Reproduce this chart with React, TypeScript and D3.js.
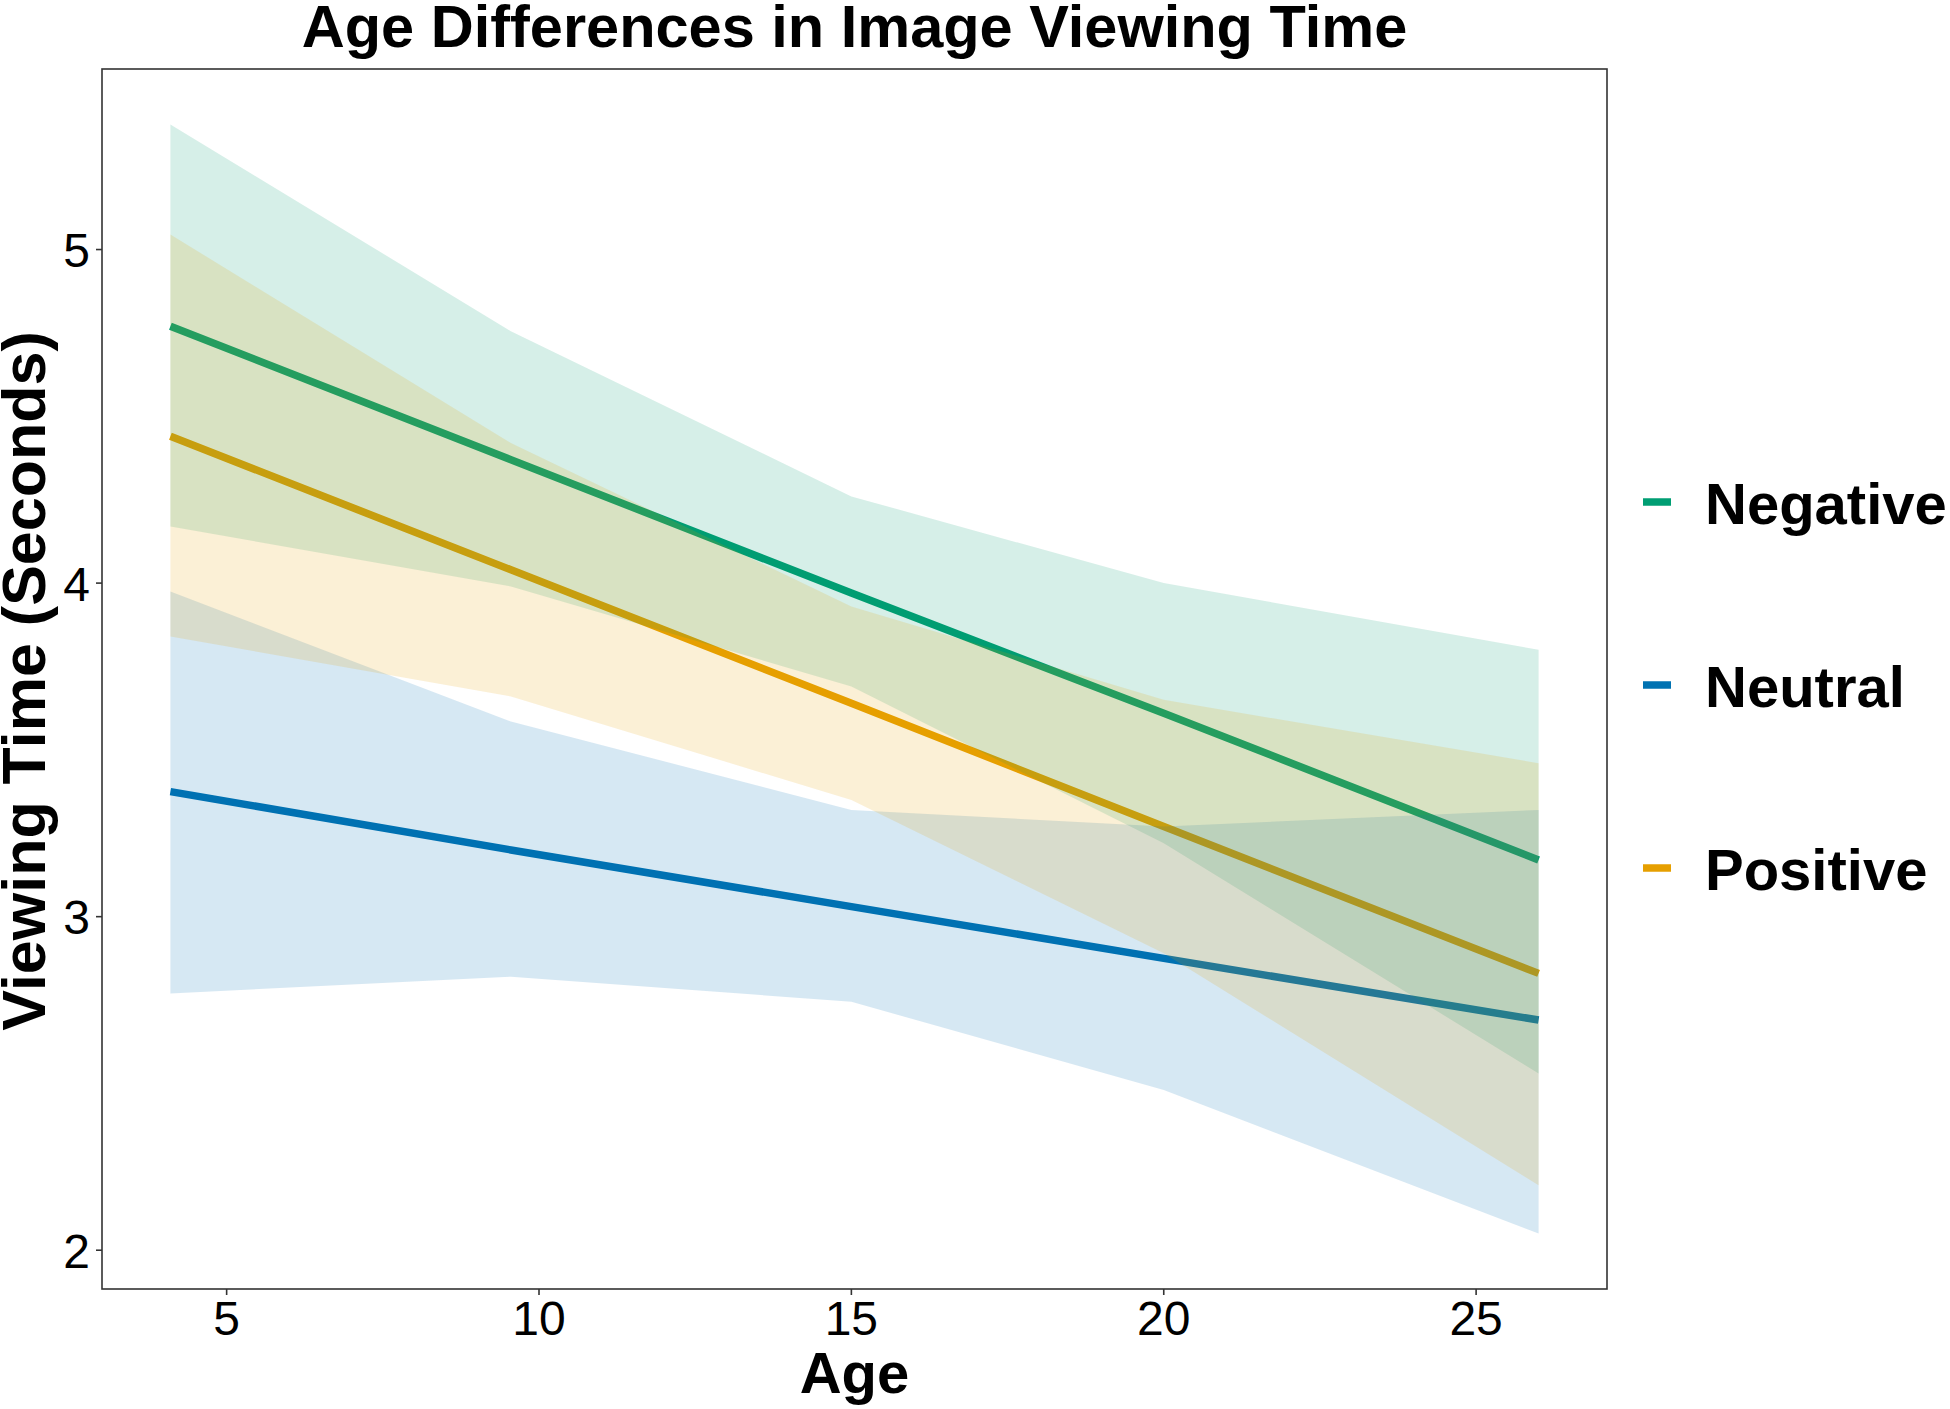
import React from "react";
import * as d3 from "d3";

// ---- data ----
const ages = [4.1, 9.55, 15, 20, 26];

const negFit = [4.77, 4.37, 3.97, 3.61, 3.17];
const negLower = [4.17, 3.99, 3.69, 3.22, 2.53];
const negUpper = [5.375, 4.755, 4.26, 4.0, 3.8];

const neuFit = [3.375, 3.2, 3.03, 2.875, 2.69];
const neuLower = [2.77, 2.82, 2.745, 2.48, 2.05];
const neuUpper = [3.975, 3.585, 3.32, 3.27, 3.32];

const posFit = [4.44, 4.04, 3.64, 3.27, 2.83];
const posLower = [3.84, 3.66, 3.35, 2.89, 2.195];
const posUpper = [5.045, 4.42, 3.93, 3.65, 3.46];

const categories = ["Negative", "Neutral", "Positive"];
const colors = ["#009E73", "#0072B2", "#E69F00"];
const xTicks = [5, 10, 15, 20, 25];
const yTicks = [2, 3, 4, 5];

const title = "Age Differences in Image Viewing Time";
const xTitle = "Age";
const yTitle = "Viewing Time (Seconds)";

const series = [
  { name: categories[0], fit: negFit, lower: negLower, upper: negUpper, color: colors[0] },
  { name: categories[1], fit: neuFit, lower: neuLower, upper: neuUpper, color: colors[1] },
  { name: categories[2], fit: posFit, lower: posLower, upper: posUpper, color: colors[2] },
];

const W = 1950;
const H = 1409;
const panel = { left: 102, right: 1607, top: 69, bottom: 1289 };
const FONT = "'Liberation Sans', Arial, Helvetica, sans-serif";

function expand(ext: [number, number], f = 0.05): [number, number] {
  const r = ext[1] - ext[0];
  return [ext[0] - r * f, ext[1] + r * f];
}

export default function App() {
  const xExt = d3.extent(ages) as [number, number];
  const allY = [...negLower, ...negUpper, ...neuLower, ...neuUpper, ...posLower, ...posUpper];
  const yExt = d3.extent(allY) as [number, number];

  const x = d3.scaleLinear().domain(expand(xExt)).range([panel.left, panel.right]);
  const y = d3.scaleLinear().domain(expand(yExt)).range([panel.bottom, panel.top]);

  const line = d3
    .line<number>()
    .x((_, i) => x(ages[i]))
    .y((d) => y(d));

  const area = (lo: number[], hi: number[]) =>
    d3
      .area<number>()
      .x((_, i) => x(ages[i]))
      .y0((_, i) => y(lo[i]))
      .y1((_, i) => y(hi[i]))(ages) as string;

  const tickLen = 6;
  const legendX = 1643;
  const legendY0 = 502;
  const legendStep = 183;

  return (
    <svg
      width={W}
      height={H}
      viewBox={`0 0 ${W} ${H}`}
      style={{ position: "absolute", left: 0, top: 0, background: "#fff" }}
      fontFamily={FONT}
    >
      <rect x={0} y={0} width={W} height={H} fill="#fff" />
      <defs>
        <clipPath id="panelClip">
          <rect
            x={panel.left}
            y={panel.top}
            width={panel.right - panel.left}
            height={panel.bottom - panel.top}
          />
        </clipPath>
      </defs>

      <g clipPath="url(#panelClip)">
        {series.map((s) => (
          <path
            key={"l" + s.name}
            d={line(s.fit) as string}
            fill="none"
            stroke={s.color}
            strokeWidth={7.5}
            strokeLinecap="butt"
          />
        ))}
        {series.map((s) => (
          <path key={"r" + s.name} d={area(s.lower, s.upper)} fill={s.color} fillOpacity={0.16} />
        ))}
      </g>

      <rect
        x={panel.left}
        y={panel.top}
        width={panel.right - panel.left}
        height={panel.bottom - panel.top}
        fill="none"
        stroke="#333333"
        strokeWidth={1.6}
      />

      {/* x axis */}
      {xTicks.map((t) => (
        <g key={"xt" + t}>
          <line
            x1={x(t)}
            x2={x(t)}
            y1={panel.bottom}
            y2={panel.bottom + tickLen}
            stroke="#333333"
            strokeWidth={1.6}
          />
          <text x={x(t)} y={1335} textAnchor="middle" fontSize={48} fill="#000">
            {t}
          </text>
        </g>
      ))}

      {/* y axis */}
      {yTicks.map((t) => (
        <g key={"yt" + t}>
          <line
            x1={panel.left - tickLen}
            x2={panel.left}
            y1={y(t)}
            y2={y(t)}
            stroke="#333333"
            strokeWidth={1.6}
          />
          <text x={90} y={y(t) + 17.5} textAnchor="end" fontSize={48} fill="#000">
            {t}
          </text>
        </g>
      ))}

      <text
        x={(panel.left + panel.right) / 2}
        y={47}
        textAnchor="middle"
        fontSize={59.5}
        fontWeight="bold"
        fill="#000"
      >
        {title}
      </text>

      <text
        x={(panel.left + panel.right) / 2}
        y={1393}
        textAnchor="middle"
        fontSize={58}
        fontWeight="bold"
        fill="#000"
      >
        {xTitle}
      </text>

      <text
        transform={`translate(45, ${(panel.top + panel.bottom) / 2 + 2}) rotate(-90)`}
        textAnchor="middle"
        fontSize={61}
        fontWeight="bold"
        fill="#000"
      >
        {yTitle}
      </text>

      {/* legend */}
      {series.map((s, i) => (
        <g key={"lg" + s.name}>
          <line
            x1={legendX}
            x2={legendX + 28}
            y1={legendY0 + i * legendStep}
            y2={legendY0 + i * legendStep}
            stroke={s.color}
            strokeWidth={7.5}
          />
          <text
            x={1705}
            y={legendY0 + i * legendStep + 21.5}
            fontSize={58}
            fontWeight="bold"
            fill="#000"
          >
            {s.name}
          </text>
        </g>
      ))}
    </svg>
  );
}
